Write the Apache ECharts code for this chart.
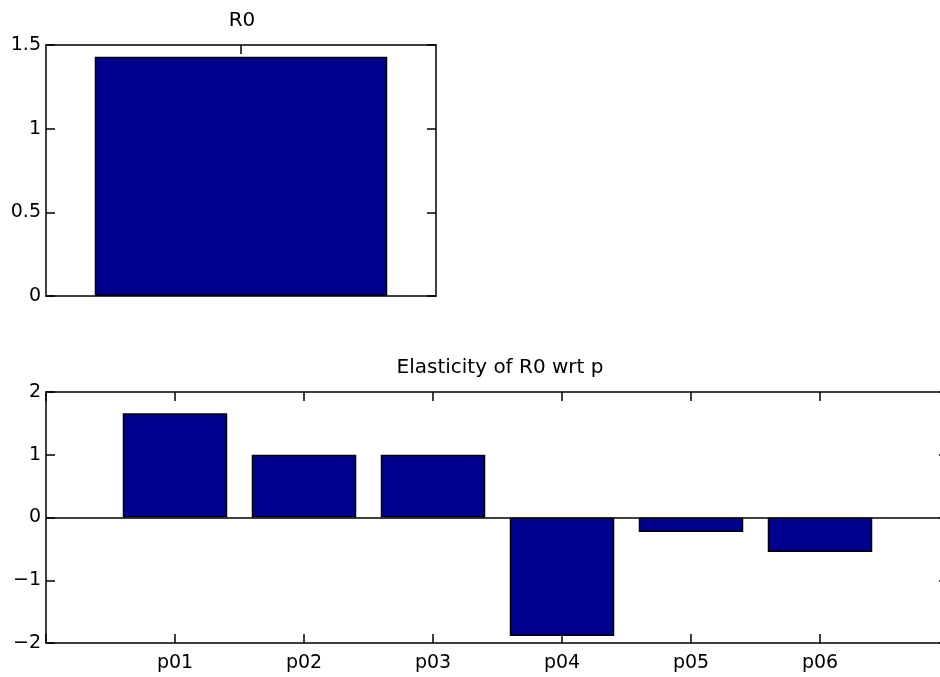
<!DOCTYPE html>
<html>
<head>
    <meta charset="utf-8">
    <title>R0 elasticity</title>
    <script src="https://cdn.jsdelivr.net/npm/echarts@6/dist/echarts.min.js"></script>
    <style>
        html, body { margin: 0; padding: 0; background: #fff; }
        #chart { width: 940px; height: 677px; }
    </style>
</head>
<body>
<div id="chart"></div>
<script>
    // data
    const r0Categories = ['R0'];
    const r0Values = [1.43];
    const r0Ticks = [0, 0.5, 1, 1.5];

    const paramNames = ['p01', 'p02', 'p03', 'p04', 'p05', 'p06'];
    const elasticity = [1.66, 1.0, 1.0, -1.89, -0.23, -0.55];
    const elasticityTicks = [-2, -1, 0, 1, 2];

    // pad with an empty slot on each side so the axis runs 0..7
    const xCats = [''].concat(paramNames, ['']);
    const xVals = [null].concat(elasticity, [null]);

    const font = 'DejaVu Sans';
    const ink = '#000';
    const barColor = '#00008f';

    const chart = echarts.init(document.getElementById('chart'));

    const lineStyle = { color: ink, width: 1.5 };
    const tickStyle = { show: true, inside: true, length: 9, lineStyle: lineStyle };
    const labelStyle = { color: ink, fontFamily: font, fontSize: 19 };
    const minus = v => String(v).replace('-', '\u2212');

    const option = {
        animation: false,
        title: [
            {
                text: 'R0', left: 237, top: 6, textAlign: 'center',
                textStyle: { color: ink, fontFamily: font, fontSize: 20, fontWeight: 'normal' }
            },
            {
                text: 'Elasticity of R0 wrt p', left: 495, top: 353, textAlign: 'center',
                textStyle: { color: ink, fontFamily: font, fontSize: 20, fontWeight: 'normal' }
            }
        ],
        grid: [
            { left: 46, top: 45, width: 390, height: 251, outerBoundsMode: 'none' },
            { left: 46, top: 392, width: 903, height: 251, outerBoundsMode: 'none' }
        ],
        xAxis: [
            {
                gridIndex: 0, type: 'category', data: r0Categories, position: 'bottom',
                axisLine: { show: true, onZero: false, lineStyle: lineStyle },
                axisTick: { show: false }, axisLabel: { show: false }
            },
            {
                gridIndex: 0, type: 'category', data: r0Categories, position: 'top',
                axisLine: { show: true, onZero: false, lineStyle: lineStyle },
                axisTick: Object.assign({ alignWithLabel: true }, tickStyle),
                axisLabel: { show: false }
            },
            {
                gridIndex: 1, type: 'category', data: xCats, boundaryGap: false, position: 'bottom',
                axisLine: { show: true, onZero: false, lineStyle: lineStyle },
                axisTick: tickStyle,
                axisLabel: Object.assign({ margin: 11, interval: 0 }, labelStyle)
            },
            {
                gridIndex: 1, type: 'category', data: xCats, boundaryGap: false, position: 'top',
                axisLine: { show: true, onZero: false, lineStyle: lineStyle },
                axisTick: tickStyle, axisLabel: { show: false }
            }
        ],
        yAxis: [
            {
                gridIndex: 0, type: 'value', position: 'left',
                min: r0Ticks[0], max: r0Ticks[r0Ticks.length - 1], interval: 0.5,
                axisLine: { show: true, onZero: false, lineStyle: lineStyle },
                axisTick: tickStyle, splitLine: { show: false },
                axisLabel: Object.assign({ margin: 5 }, labelStyle)
            },
            {
                gridIndex: 0, type: 'value', position: 'right',
                min: r0Ticks[0], max: r0Ticks[r0Ticks.length - 1], interval: 0.5,
                axisLine: { show: true, onZero: false, lineStyle: lineStyle },
                axisTick: tickStyle, splitLine: { show: false }, axisLabel: { show: false }
            },
            {
                gridIndex: 1, type: 'value', position: 'left',
                min: elasticityTicks[0], max: elasticityTicks[elasticityTicks.length - 1], interval: 1,
                axisLine: { show: true, onZero: false, lineStyle: lineStyle },
                axisTick: tickStyle, splitLine: { show: false },
                axisLabel: Object.assign({ margin: 5, formatter: minus }, labelStyle)
            },
            {
                gridIndex: 1, type: 'value', position: 'right',
                min: elasticityTicks[0], max: elasticityTicks[elasticityTicks.length - 1], interval: 1,
                axisLine: { show: true, onZero: false, lineStyle: lineStyle },
                axisTick: Object.assign({}, tickStyle, { length: 10 }),
                splitLine: { show: false }, axisLabel: { show: false }
            }
        ],
        series: [
            {
                type: 'bar', xAxisIndex: 0, yAxisIndex: 0, data: r0Values,
                barWidth: '75%',
                itemStyle: { color: barColor, borderColor: ink, borderWidth: 1.5 }
            },
            {
                type: 'bar', xAxisIndex: 2, yAxisIndex: 2, data: xVals,
                barWidth: '81%',
                itemStyle: { color: barColor, borderColor: ink, borderWidth: 1.5 },
                markLine: {
                    silent: true, symbol: 'none', label: { show: false },
                    lineStyle: { color: ink, width: 1.5, type: 'solid' },
                    data: [{ yAxis: 0 }]
                }
            }
        ]
    };

    chart.setOption(option);
</script>
</body>
</html>
